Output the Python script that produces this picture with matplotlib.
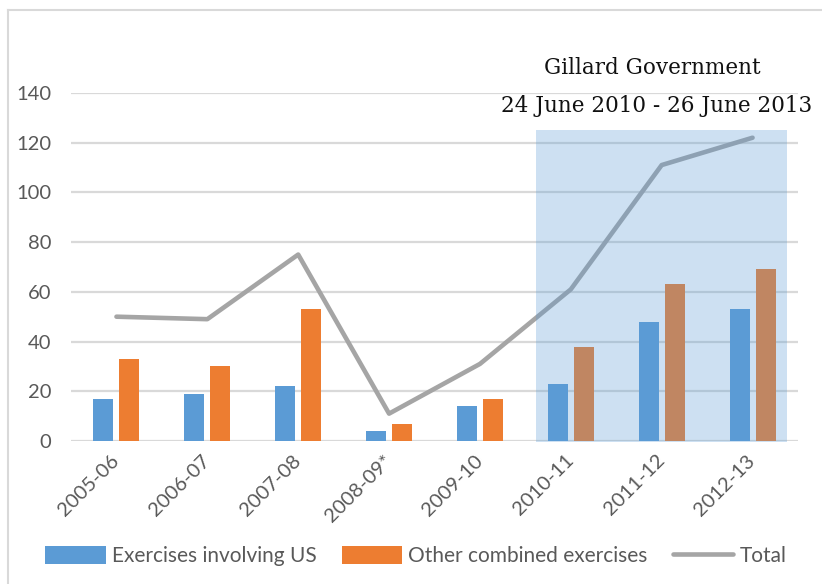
import matplotlib.pyplot as plt
import numpy as np
from matplotlib.lines import Line2D
from matplotlib.patches import Rectangle

anos = ['2005-06', '2006-07', '2007-08', '2008-09*', '2009-10', '2010-11', '2011-12', '2012-13']
envolvendo_eua = [17, 19, 22, 4, 14, 23, 48, 53]
outros = [33, 30, 53, 7, 17, 38, 63, 69]
total = [50, 49, 75, 11, 31, 61, 111, 122]

plt.rcParams['font.family'] = ['Lato', 'DejaVu Sans']

fig = plt.figure(figsize=(8.22, 5.84), dpi=100)
ax = fig.add_axes([0.0864, 0.2449, 0.8844, 0.5959])

x = np.arange(len(anos))
b1 = ax.bar(x - 0.143, envolvendo_eua, width=0.22, color='#5B9BD5', label='Exercises involving US', zorder=2)
b2 = ax.bar(x + 0.143, outros, width=0.22, color='#ED7D31', label='Other combined exercises', zorder=2)
l1, = ax.plot(x, total, color='#A5A5A5', lw=3.3, solid_capstyle='round', solid_joinstyle='round', label='Total', zorder=3)

# periodo do governo Gillard
ax.add_patch(Rectangle((4.615, -0.5), 2.76, 125.5, facecolor='#5B9BD5', alpha=0.3, lw=0, zorder=4, clip_on=False))

ax.set_xlim(-0.5, len(anos) - 0.5)
ax.set_ylim(0, 140)
ax.set_yticks(range(0, 141, 20))
ax.yaxis.grid(True, color='#D9D9D9', lw=1.6, zorder=0)
ax.set_axisbelow(True)
for s in ax.spines.values():
    s.set_visible(False)
ax.tick_params(axis='both', length=0, labelsize=14.5, labelcolor='#595959')
ax.tick_params(axis='y', pad=14)
ax.set_xticks(x)
ax.set_xticklabels(anos, rotation=45, ha='right', va='center', rotation_mode='anchor')
ax.tick_params(axis='x', pad=12)

fig.text(0.793, 0.884, 'Gillard Government', family='DejaVu Serif', fontsize=15.5, ha='center', va='center', color='#111111')
fig.text(0.799, 0.818, '24 June 2010 - 26 June 2013', family='DejaVu Serif', fontsize=15.5, ha='center', va='center', color='#111111')

fig.legend([b1, b2, l1], ['Exercises involving US', 'Other combined exercises', 'Total'],
           loc='center', bbox_to_anchor=(0.506, 0.048), ncol=3, frameon=False, fontsize=15,
           handlelength=2.9, handleheight=1.0, handletextpad=0.3, columnspacing=1.2, labelcolor='#595959')

# moldura do grafico
fig.add_artist(Line2D([0.0097, 0.0097], [0, 0.983], color='#D9D9D9', lw=1.5))
fig.add_artist(Line2D([0.0097, 1], [0.983, 0.983], color='#D9D9D9', lw=1.5))

plt.savefig('out.png', dpi=100)
